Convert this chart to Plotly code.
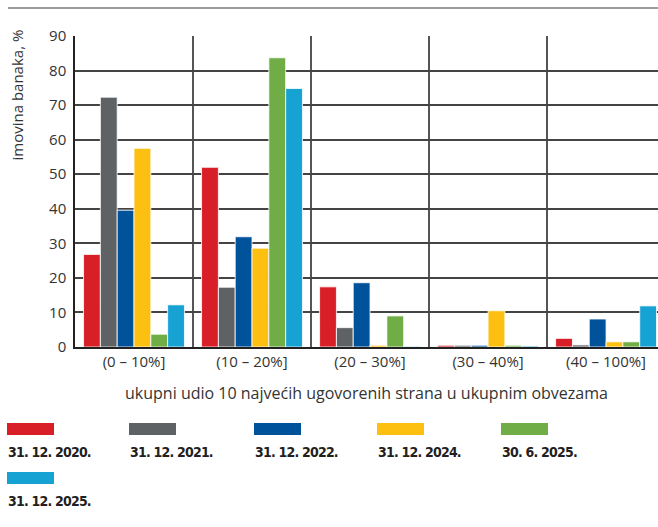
import plotly.graph_objects as go

categories = ["(0 – 10%]", "(10 – 20%]", "(20 – 30%]", "(30 – 40%]", "(40 – 100%]"]
series_names = ["31. 12. 2020.", "31. 12. 2021.", "31. 12. 2022.", "31. 12. 2024.", "30. 6. 2025.", "31. 12. 2025."]
series_colors = ["#D81E26", "#5F6264", "#00529B", "#FDC010", "#70AD46", "#17A2D4"]

s2020 = [26.8, 52.0, 17.4, 0.5, 2.5]
s2021 = [72.3, 17.3, 5.6, 0.5, 0.6]
s2022 = [39.6, 31.9, 18.6, 0.5, 8.1]
s2024 = [57.5, 28.6, 0.5, 10.5, 1.5]
s2025h = [3.7, 83.7, 9.0, 0.5, 1.5]
s2025 = [12.2, 74.8, 0.2, 0.3, 11.9]
series_values = [s2020, s2021, s2022, s2024, s2025h, s2025]

W, H = 658, 527
L, T, B = 75, 36, 347  # plot area pixels

fig = go.Figure()
for name, color, vals in zip(series_names, series_colors, series_values):
    fig.add_trace(go.Bar(
        x=categories, y=vals, name=name,
        marker=dict(color=color, line=dict(color="rgba(255,255,255,0.8)", width=1)),
        showlegend=False,
    ))

def px_to_paper_x(px):
    return (px - L) / (W - L)

def px_to_paper_y(py):
    return (B - py) / (B - T)

shapes = []
annotations = []

# top rule
shapes.append(dict(type="line", xref="paper", yref="paper",
                   x0=px_to_paper_x(8), x1=px_to_paper_x(658),
                   y0=px_to_paper_y(8), y1=px_to_paper_y(8),
                   line=dict(color="#7a7a7a", width=1.5)))

# custom legend
legend_pos = [(7, 423), (129, 423), (254, 423), (377, 423), (501, 423), (7, 472)]
for (lx, ly), name, color in zip(legend_pos, series_names, series_colors):
    shapes.append(dict(type="rect", xref="paper", yref="paper",
                       x0=px_to_paper_x(lx), x1=px_to_paper_x(lx + 47),
                       y0=px_to_paper_y(ly), y1=px_to_paper_y(ly + 12),
                       line=dict(width=0), fillcolor=color))
    annotations.append(dict(xref="paper", yref="paper",
                            x=px_to_paper_x(lx - 1), y=px_to_paper_y(ly + 19),
                            xanchor="left", yanchor="top", showarrow=False,
                            text="<span style='letter-spacing:-0.8px'><b>" + name + "</b></span>",
                            font=dict(family="DejaVu Sans Condensed, Liberation Sans", size=14, color="#231F20")))

# y axis title
annotations.append(dict(xref="paper", yref="paper",
                        x=px_to_paper_x(16), y=px_to_paper_y(28),
                        xanchor="center", yanchor="top", showarrow=False,
                        textangle=-90, text="imovina banaka, %",
                        font=dict(family="Open Sans", size=15, color="#333333")))

fig.update_layout(
    width=W, height=H,
    margin=dict(l=L, r=0, t=T, b=H - B, pad=0),
    paper_bgcolor="white", plot_bgcolor="white",
    barmode="group", bargap=0.145, bargroupgap=0,
    font=dict(family="Open Sans", size=14, color="#333333"),
    shapes=shapes, annotations=annotations,
    xaxis=dict(
        type="category", range=[-0.5, 4.44],
        tickson="boundaries", showgrid=True, gridcolor="#555555", gridwidth=1.5,
        ticks="", showline=True, linecolor="#222222", linewidth=1.5,
        tickfont=dict(family="Open Sans", size=15, color="#333333"),
        title=dict(text="ukupni udio 10 najvećih ugovorenih strana u ukupnim obvezama",
                   font=dict(family="Open Sans", size=16, color="#333333"), standoff=18),
    ),
    yaxis=dict(
        range=[0, 90], dtick=10, showgrid=True, gridcolor="#444444", gridwidth=1.5,
        ticks="", showline=True, linecolor="#222222", linewidth=1.5,
        tickfont=dict(family="Open Sans", size=15, color="#333333"),
        zeroline=False, ticklabelstandoff=4,
    ),
)

fig.write_html("out.html", config={"displayModeBar": False},
               post_script="document.body.style.margin='0';")
